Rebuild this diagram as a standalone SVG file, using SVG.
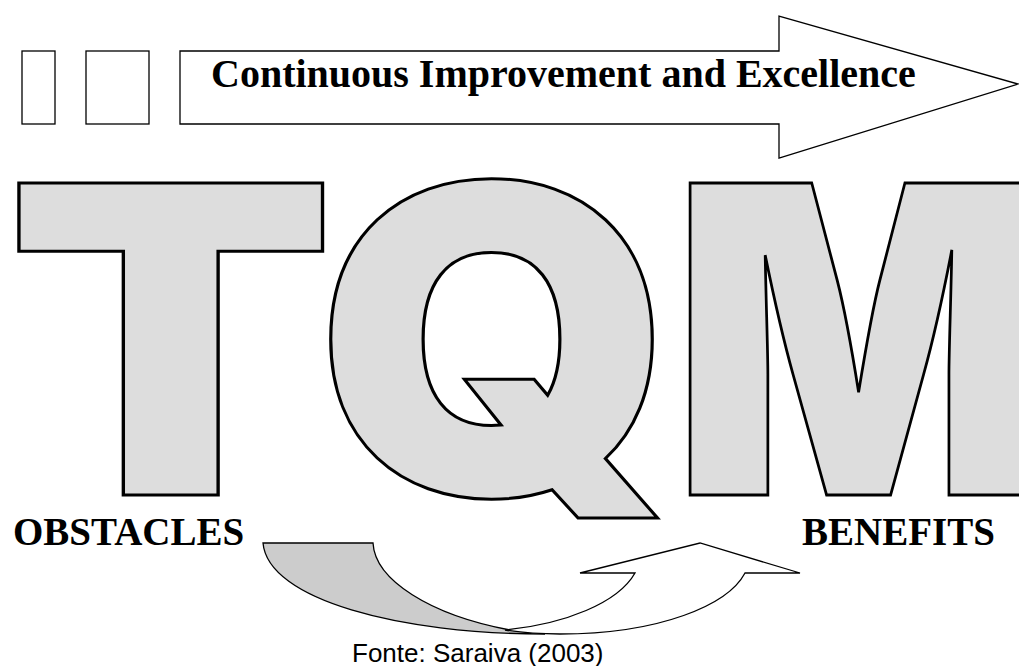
<svg xmlns="http://www.w3.org/2000/svg" width="1019" height="666" viewBox="0 0 1019 666">
<style>
.box{fill:#ffffff;stroke:#000;stroke-width:1.3}
.big{font-family:Inter,"DejaVu Sans",sans-serif;font-weight:900;font-size:429px;fill:#dddddd;stroke:#000;stroke-width:3;stroke-linejoin:miter}
.lbl{font-family:"Liberation Serif","Times New Roman",serif;font-weight:bold;fill:#000}
.src{font-family:"Liberation Sans",Arial,sans-serif;font-size:26px;fill:#000}
.ln{stroke:#000;stroke-width:1.3;stroke-linejoin:miter}
</style>
<rect width="1019" height="666" fill="#ffffff"/>
<g id="box1"><rect class="box" x="22" y="51" width="33" height="73"/></g>
<g id="box2"><rect class="box" x="86" y="51" width="63" height="73"/></g>
<g id="arrow-top">
<polygon class="box" points="180,51 779,51 779,16 1018,84 779,158 779,124 180,124"/>
<text class="lbl" x="211" y="87" font-size="40">Continuous Improvement and Excellence</text>
</g>
<g id="letter-T" transform="translate(5.8,495) scale(1.12,1)"><text class="big" x="0" y="0">T</text></g>
<g id="letter-Q" transform="translate(315.2,495) scale(1.06,1)"><text class="big" x="0" y="0">Q</text></g>
<g id="letter-M" transform="translate(671.8,495) scale(0.91,1)"><text class="big" x="0" y="0">M</text></g>
<g id="obstacles"><text class="lbl" x="13" y="545" font-size="39">OBSTACLES</text></g>
<g id="benefits"><text class="lbl" x="802" y="545" font-size="39">BENEFITS</text></g>
<g id="connectors">
<path class="ln" fill="#cccccc" d="M263,543 L373,543 C375,580 430,615 510,630 L545,634 C400,634 268,600 263,543 Z"/>
<path class="ln" fill="#ffffff" d="M505,630 C565,624 618,603 635,573 L580,573 L700,543 L800,573 L745,573 C728,605 660,634 560,634 Q530,634 505,630 Z"/>
</g>
<g id="source"><text class="src" x="352" y="662">Fonte: Saraiva (2003)</text></g>
</svg>
